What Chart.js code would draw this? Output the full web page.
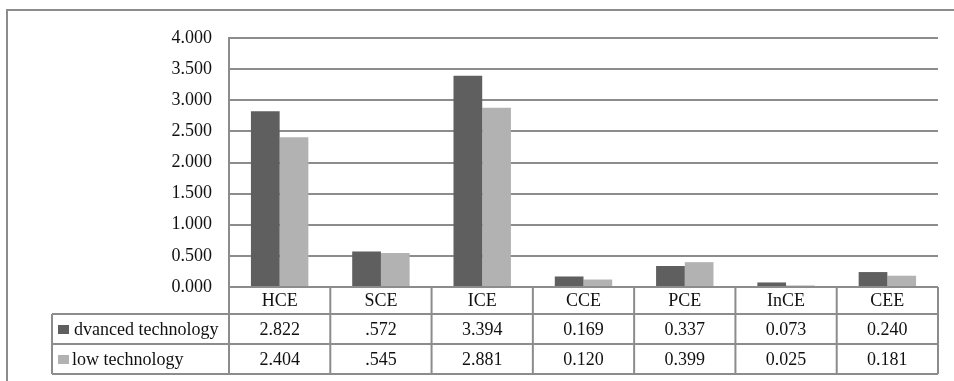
<!DOCTYPE html>
<html>
<head>
<meta charset="utf-8">
<script src="https://cdn.jsdelivr.net/npm/chart.js@4/dist/chart.umd.min.js"></script>
<style>
  html, body { margin: 0; padding: 0; background: #fff; }
  canvas { display: block; }
</style>
</head>
<body>
<canvas id="chart" width="954" height="381"></canvas>
<script>
// Categories along the x axis
const categories = ['HCE', 'SCE', 'ICE', 'CCE', 'PCE', 'InCE', 'CEE'];

// Series names as written in the data table
const seriesNames = ['dvanced technology', 'low technology'];

// Cell text of the data table; the bars are drawn from these same values
const advancedCells = ['2.822', '.572', '3.394', '0.169', '0.337', '0.073', '0.240'];
const lowCells      = ['2.404', '.545', '2.881', '0.120', '0.399', '0.025', '0.181'];

const advancedValues = advancedCells.map(Number);
const lowValues      = lowCells.map(Number);

// Value axis ticks
const yTicks = [0, 0.5, 1, 1.5, 2, 2.5, 3, 3.5, 4];

const DARK = '#5f5f5f';
const LIGHT = '#b2b2b2';
const LINE = '#8c8c8c';
const FAMILY = '"Liberation Serif", "Times New Roman", serif';
const FONT = '18px ' + FAMILY;

// Data table under the plot: category row, one row per series, legend keys
const dataTable = {
  id: 'dataTable',
  afterDraw(chart) {
    const ctx = chart.ctx;
    const area = chart.chartArea;
    const x = chart.scales.x;
    const n = categories.length;
    const colW = (area.right - area.left) / n;
    const tableLeft = 52;
    const rowTop = [area.bottom, 314, 344, 374];

    ctx.save();
    ctx.strokeStyle = LINE;
    ctx.lineWidth = 2;

    // outer frame of the whole figure
    ctx.beginPath();
    ctx.moveTo(7, 400);
    ctx.lineTo(7, 10);
    ctx.lineTo(960, 10);
    ctx.stroke();

    ctx.beginPath();
    // left edge of the plot, continued down through the table
    ctx.moveTo(area.left, area.top);
    ctx.lineTo(area.left, rowTop[3]);
    // table row rules
    for (let r = 1; r < rowTop.length; r++) {
      ctx.moveTo(tableLeft, rowTop[r]);
      ctx.lineTo(area.right, rowTop[r]);
    }
    // left edge of the series-name column
    ctx.moveTo(tableLeft, rowTop[1]);
    ctx.lineTo(tableLeft, rowTop[3]);
    // column rules
    for (let i = 1; i <= n; i++) {
      const cx = area.left + colW * i;
      ctx.moveTo(cx, rowTop[0]);
      ctx.lineTo(cx, rowTop[3]);
    }
    ctx.stroke();

    ctx.font = FONT;
    ctx.fillStyle = '#111';
    ctx.textBaseline = 'middle';
    ctx.textAlign = 'center';
    const rows = [categories, advancedCells, lowCells];
    for (let r = 0; r < rows.length; r++) {
      const cy = (rowTop[r] + rowTop[r + 1]) / 2 + 1;
      rows[r].forEach((t, i) => {
        ctx.fillText(t, x.getPixelForValue(i), cy);
      });
    }

    // legend keys and series names
    const colors = [DARK, LIGHT];
    ctx.textAlign = 'left';
    for (let s = 0; s < seriesNames.length; s++) {
      const top = rowTop[s + 1];
      const cy = (top + rowTop[s + 2]) / 2 + 1;
      ctx.fillStyle = colors[s];
      ctx.fillRect(58, cy - 5, 11, 9);
      ctx.fillStyle = '#111';
      ctx.fillText(seriesNames[s], s === 0 ? 74 : 72, cy);
    }
    ctx.restore();
  }
};

new Chart(document.getElementById('chart'), {
  type: 'bar',
  data: {
    labels: categories,
    datasets: [
      { label: seriesNames[0], data: advancedValues, backgroundColor: DARK },
      { label: seriesNames[1], data: lowValues, backgroundColor: LIGHT }
    ]
  },
  options: {
    responsive: false,
    animation: false,
    events: [],
    layout: { padding: { left: 0, top: 38, right: 16, bottom: 94 } },
    datasets: { bar: { barPercentage: 1, categoryPercentage: 0.567 } },
    plugins: {
      legend: { display: false },
      tooltip: { enabled: false }
    },
    scales: {
      x: { display: false },
      y: {
        min: 0,
        max: 4,
        afterFit(scale) { scale.width = 229; },
        afterBuildTicks(scale) { scale.ticks = yTicks.map(v => ({ value: v })); },
        ticks: {
          padding: 17,
          color: '#111',
          font: { family: FAMILY, size: 18 },
          callback: v => Number(v).toFixed(3)
        },
        grid: { color: LINE, lineWidth: 2, drawTicks: false },
        border: { display: true, color: LINE, width: 2 }
      }
    }
  },
  plugins: [dataTable]
});
</script>
</body>
</html>
